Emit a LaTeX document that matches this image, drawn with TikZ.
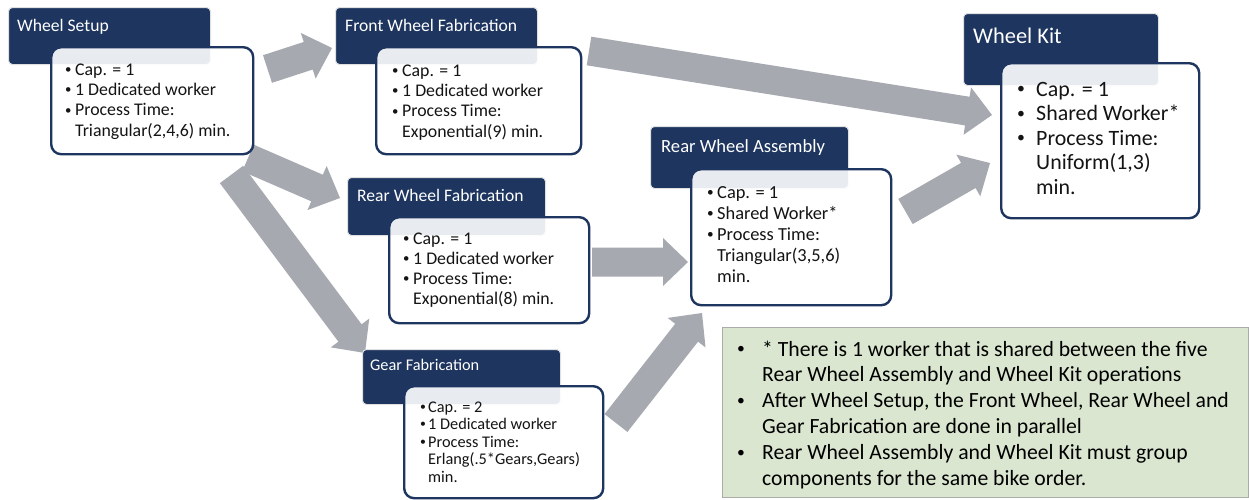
\documentclass[tikz,border=0pt]{standalone}
\usepackage{fontspec}
\usepackage{graphicx}
\setmainfont{Carlito}
\usetikzlibrary{calc}
\definecolor{navy}{RGB}{29,53,95}
\definecolor{agray}{RGB}{167,169,177}
\definecolor{notegreen}{RGB}{218,230,207}
\definecolor{noteedge}{RGB}{170,172,170}
\newcommand{\fsz}[2]{\fontsize{#1}{#2}\selectfont}
\newcommand{\bl}[1]{\makebox[#1][l]{\hspace{2pt}\raisebox{0.1em}{\scalebox{0.72}{\textbullet}}}}
\newcommand{\blockarrow}[2]{%
  \coordinate (#1-h) at ($(#2)!25pt!(#1)$);
  \fill[agray] ($(#1)!14.5pt!90:(#2)$) -- ($(#1-h)!14.5pt!90:(#2)$) -- ($(#1-h)!24pt!90:(#2)$) -- (#2)
    -- ($(#1-h)!24pt!-90:(#2)$) -- ($(#1-h)!14.5pt!-90:(#2)$) -- ($(#1)!14.5pt!-90:(#2)$) -- cycle;}
\begin{document}
\begin{tikzpicture}[x=1pt,y=-1pt,
  hdr/.style={draw=black!12, line width=1pt, fill=navy, rounded corners=4pt, anchor=north west, inner sep=0pt},
  body/.style={draw=navy, line width=2.4pt, fill=white, fill opacity=0.9, draw opacity=1, rounded corners=10pt, anchor=north west, inner sep=0pt},
  ttl/.style={text=white, anchor=base west, inner sep=0pt},
  btxt/.style={text=black!92, anchor=base west, inner sep=0pt},
  note/.style={draw=noteedge, line width=0.8pt, fill=notegreen, anchor=north west, inner sep=0pt}]
\useasboundingbox (0,0) rectangle (1249,499);
\fill[white] (0,0) rectangle (1249,499);

% arrow end points
\coordinate (a1s) at (267.5,69);  \coordinate (a1t) at (332,48);
\coordinate (a2s) at (248,158);   \coordinate (a2t) at (340,198);
\coordinate (a3s) at (231.5,174.5); \coordinate (a3t) at (365,353);
\coordinate (a4s) at (589,51);    \coordinate (a4t) at (992,115);
\coordinate (a5s) at (592,262);   \coordinate (a5t) at (688,262);
\coordinate (a6s) at (616,423);   \coordinate (a6t) at (702,313);
\coordinate (a7s) at (905.5,211.5); \coordinate (a7t) at (990,163);
\blockarrow{a1s}{a1t}
\blockarrow{a2s}{a2t}
\blockarrow{a3s}{a3t}
\blockarrow{a4s}{a4t}
\blockarrow{a5s}{a5t}
\blockarrow{a6s}{a6t}
\blockarrow{a7s}{a7t}

% Wheel Setup
\node[hdr, minimum width=202pt, minimum height=57pt] (wsH) at (8,7) {};
\node[ttl, font=\fsz{17.6}{20}] (wsL) at (17,31) {Wheel Setup};
\node[body, minimum width=202pt, minimum height=107pt] (wsB) at (50,46) {};
\node[btxt] (wsT) at (63,75) {\parbox[t]{185pt}{\fsz{17.8}{20.4}\raggedright
  \bl{12pt}Cap. = 1\\\bl{12pt}1 Dedicated worker\\\bl{12pt}Process Time:\\\hspace*{12pt}Triangular(2,4,6) min.}};

% Front Wheel Fabrication
\node[hdr, minimum width=202pt, minimum height=57pt] (fwH) at (335,7) {};
\node[ttl, font=\fsz{17.6}{20}] (fwL) at (345,31) {Front Wheel Fabrication};
\node[body, minimum width=205pt, minimum height=107pt] (fwB) at (375,46) {};
\node[btxt] (fwT) at (390,76) {\parbox[t]{185pt}{\fsz{17.8}{20.4}\raggedright
  \bl{12pt}Cap. = 1\\\bl{12pt}1 Dedicated worker\\\bl{12pt}Process Time:\\\hspace*{12pt}Exponential(9) min.}};

% Rear Wheel Fabrication
\node[hdr, minimum width=198pt, minimum height=58pt] (rfH) at (347,177) {};
\node[ttl, font=\fsz{17.6}{20}] (rfL) at (357,201) {Rear Wheel Fabrication};
\node[body, minimum width=200pt, minimum height=106pt] (rfB) at (388,216) {};
\node[btxt] (rfT) at (401,244) {\parbox[t]{185pt}{\fsz{17.8}{20}\raggedright
  \bl{12pt}Cap. = 1\\\bl{12pt}1 Dedicated worker\\\bl{12pt}Process Time:\\\hspace*{12pt}Exponential(8) min.}};

% Gear Fabrication
\node[hdr, minimum width=198pt, minimum height=55pt] (gfH) at (362,349) {};
\node[ttl, font=\fsz{16.3}{19}] (gfL) at (370,370.5) {Gear Fabrication};
\node[body, minimum width=199pt, minimum height=112pt] (gfB) at (403,385) {};
\node[btxt] (gfT) at (418,412) {\parbox[t]{180pt}{\fsz{16.3}{17.6}\raggedright
  \bl{10pt}Cap. = 2\\\bl{10pt}1 Dedicated worker\\\bl{10pt}Process Time:\\\hspace*{10pt}Erlang(.5*Gears,Gears)\\\hspace*{10pt}min.}};

% Rear Wheel Assembly
\node[hdr, minimum width=198pt, minimum height=62pt] (raH) at (650,126) {};
\node[ttl, font=\fsz{18.6}{21}] (raL) at (661,152) {Rear Wheel Assembly};
\node[body, minimum width=200pt, minimum height=136pt] (raB) at (690,168) {};
\node[btxt] (raT) at (705,198) {\parbox[t]{185pt}{\fsz{18.4}{21.2}\raggedright
  \bl{12pt}Cap. = 1\\\bl{12pt}Shared Worker*\\\bl{12pt}Process Time:\\\hspace*{12pt}Triangular(3,5,6)\\\hspace*{12pt}min.}};

% Wheel Kit
\node[hdr, minimum width=195pt, minimum height=72pt] (wkH) at (963,13) {};
\node[ttl, font=\fsz{22.4}{25}] (wkL) at (973,43) {Wheel Kit};
\node[body, minimum width=198pt, minimum height=155pt] (wkB) at (1000,62) {};
\node[btxt] (wkT) at (1015,96) {\parbox[t]{180pt}{\fsz{21.9}{24.5}\raggedright
  \bl{21pt}Cap. = 1\\\bl{21pt}Shared Worker*\\\bl{21pt}Process Time:\\\hspace*{21pt}Uniform(1,3)\\\hspace*{21pt}min.}};

% Note
\node[note, minimum width=526pt, minimum height=170pt] (nb) at (722,327) {};
\node[btxt, text=black] (nT) at (735,356) {\parbox[t]{510pt}{\fsz{21.7}{25.8}\raggedright
  \bl{27pt}* There is 1 worker that is shared between the five\\\hspace*{27pt}Rear Wheel Assembly and Wheel Kit operations\\
  \bl{27pt}After Wheel Setup, the Front Wheel, Rear Wheel and\\\hspace*{27pt}Gear Fabrication are done in parallel\\
  \bl{27pt}Rear Wheel Assembly and Wheel Kit must group\\\hspace*{27pt}components for the same bike order.}};
\end{tikzpicture}
\end{document}
